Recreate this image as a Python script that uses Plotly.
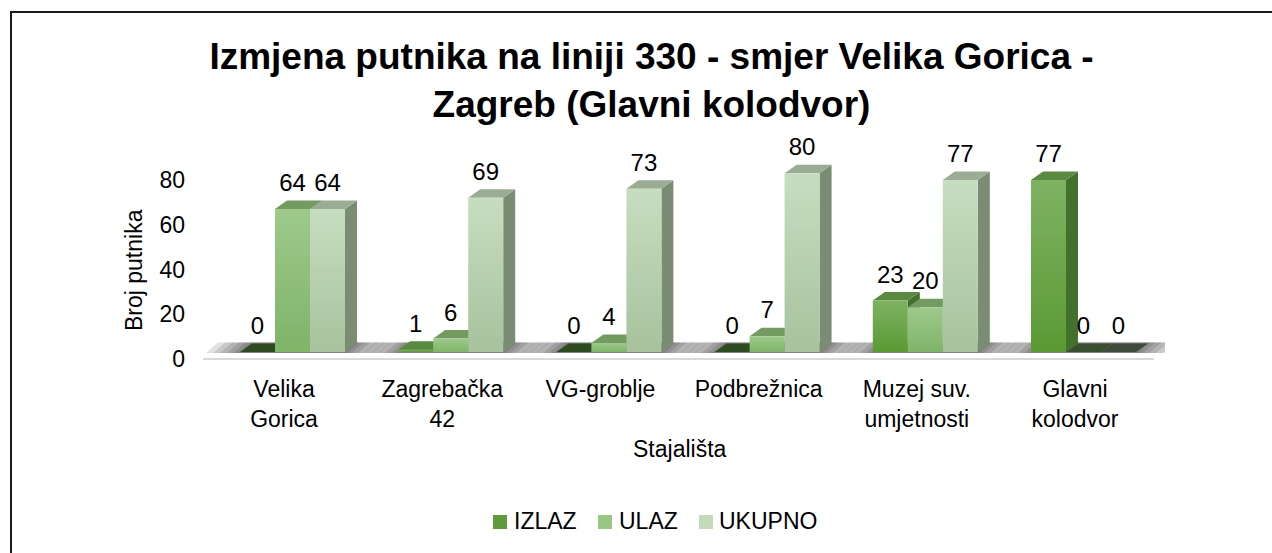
import plotly.graph_objects as go

# ---- data -------------------------------------------------------------
stop_labels = ["Velika<br>Gorica", "Zagrebačka<br>42", "VG-groblje",
               "Podbrežnica", "Muzej suv.<br>umjetnosti", "Glavni<br>kolodvor"]
series_names = ["IZLAZ", "ULAZ", "UKUPNO"]
izlaz = [0, 1, 0, 0, 23, 77]
ulaz = [64, 6, 4, 7, 20, 0]
ukupno = [64, 69, 73, 80, 77, 0]
y_ticks = [0, 20, 40, 60, 80]

# ---- styling / geometry -------------------------------------------------
FONT = "Liberation Sans, Arial, sans-serif"
W, H = 1272, 553
ML, MR, MT, MB = 200, 107, 130, 181
X_RANGE = [-0.531, 5.569]
Y_RANGE = [-8.95, 99.33]

plot_w = W - ML - MR
plot_h = H - MT - MB
ux = plot_w / (X_RANGE[1] - X_RANGE[0])   # pixels per category step
uy = plot_h / (Y_RANGE[1] - Y_RANGE[0])   # pixels per passenger

BAR_W = 35 / ux          # width of a column's front face
GROUP_SHIFT = 8.5 / ux   # columns sit slightly right of the category tick
DX = 12 / ux             # depth of the 3D extrusion (horizontal)
DY = 8.5 / uy            # depth of the 3D extrusion (vertical)
LABEL_GAP = 24 / uy      # data label centre above the front top edge

styles = {
    "IZLAZ":  dict(front=("#5b9934", "#7eb262"), top="#5a8a42", side="#44702e",
                   flat="#2e4a21", key="#5f9b3b"),
    "ULAZ":   dict(front=("#7fb469", "#9ec98b"), top="#739a61", side="#5f8750",
                   flat="#384f30", key="#99c585"),
    "UKUPNO": dict(front=("#a7c29d", "#c7ddc0"), top="#9bac94", side="#7b8c74",
                   flat="#3f4b3c", key="#c4dabb"),
}


def px_x(px):
    return X_RANGE[0] + (px - ML) / ux


def px_y(py):
    return Y_RANGE[0] + (H - MB - py) / uy


def paper_x(px):
    return (px - ML) / plot_w


def paper_y(py):
    return (H - MB - py) / plot_h


def face(pts, color=None, gradient=None, opacity=1.0):
    xs = [p[0] for p in pts] + [pts[0][0]]
    ys = [p[1] for p in pts] + [pts[0][1]]
    tr = dict(x=xs, y=ys, mode="lines", fill="toself", line=dict(width=0),
              hoverinfo="skip", showlegend=False, opacity=opacity)
    if gradient is not None:
        tr["fillgradient"] = dict(type="vertical",
                                  colorscale=[[0, gradient[0]], [1, gradient[1]]])
    else:
        tr["fillcolor"] = color
    return go.Scatter(**tr)


values = [izlaz, ulaz, ukupno]
n = len(stop_labels)

fig = go.Figure()

# soft shadows on the floor under each group
for i in range(n):
    gl = i + GROUP_SHIFT - 1.5 * BAR_W
    gr = gl + 3 * BAR_W + DX
    for ext in [34, 27, 20, 13, 7, 2]:
        e = ext / ux
        fig.add_trace(face([(gl - e, -0.4), (gr + e - DX, -0.4),
                            (gr + e, DY + 0.4), (gl - e + DX, DY + 0.4)],
                           color="#262626", opacity=0.13))

# 3D columns: side, top, then front face, drawn left to right
for i in range(n):
    for k, name in enumerate(series_names):
        st = styles[name]
        v = values[k][i]
        x0 = i + GROUP_SHIFT - 1.5 * BAR_W + k * BAR_W
        x1 = x0 + BAR_W
        if v == 0:
            fig.add_trace(face([(x0, 0), (x1, 0), (x1 + DX, DY), (x0 + DX, DY)],
                               color=st["flat"]))
            continue
        fig.add_trace(face([(x1, 0), (x1 + DX, DY), (x1 + DX, v + DY), (x1, v)],
                           color=st["side"]))
        fig.add_trace(face([(x0, v), (x1, v), (x1 + DX, v + DY), (x0 + DX, v + DY)],
                           color=st["top"]))
        fig.add_trace(face([(x0, 0), (x1, 0), (x1, v), (x0, v)],
                           gradient=st["front"]))

# data labels
for k, name in enumerate(series_names):
    xs = [i + GROUP_SHIFT - BAR_W + k * BAR_W for i in range(n)]
    ys = [v + LABEL_GAP for v in values[k]]
    fig.add_trace(go.Scatter(
        x=xs, y=ys, mode="text", text=[str(v) for v in values[k]],
        textposition="middle center",
        textfont=dict(family=FONT, size=24, color="#000000"),
        hoverinfo="skip", showlegend=False, cliponaxis=False))

shapes = [
    # floor edge
    dict(type="line", xref="x", yref="y", x0=px_x(203), x1=px_x(1154),
         y0=px_y(359), y1=px_y(359), line=dict(color="#d9d9d9", width=2),
         layer="below"),
    # chart frame
    dict(type="rect", xref="paper", yref="paper",
         x0=paper_x(11), x1=paper_x(1290), y0=paper_y(570), y1=paper_y(12),
         line=dict(color="#1a1a1a", width=2), fillcolor="rgba(0,0,0,0)"),
]

annotations = [
    dict(text="Stajališta", xref="paper", yref="paper",
         x=paper_x(680), y=paper_y(449), xanchor="center", yanchor="middle",
         showarrow=False, font=dict(family=FONT, size=23, color="#000000")),
    dict(text="Broj putnika", xref="paper", yref="paper", textangle=-90,
         x=paper_x(134), y=paper_y(270), xanchor="center", yanchor="middle",
         showarrow=False, font=dict(family=FONT, size=23, color="#000000")),
]

# legend
legend_pos = [(493, 512), (598, 617), (699, 717)]
for name, (sq, tx) in zip(series_names, legend_pos):
    shapes.append(dict(type="rect", xref="paper", yref="paper",
                       x0=paper_x(sq), x1=paper_x(sq + 14),
                       y0=paper_y(529), y1=paper_y(515),
                       line=dict(width=0), fillcolor=styles[name]["key"]))
    annotations.append(dict(text=name, xref="paper", yref="paper",
                            x=paper_x(tx), y=paper_y(521),
                            xanchor="left", yanchor="middle", showarrow=False,
                            font=dict(family=FONT, size=23, color="#000000")))

fig.update_layout(
    width=W, height=H,
    margin=dict(l=ML, r=MR, t=MT, b=MB),
    paper_bgcolor="#ffffff", plot_bgcolor="#ffffff",
    showlegend=False,
    title=dict(
        text="<b>Izmjena putnika na liniji 330 - smjer Velika Gorica -<br>"
             "Zagreb (Glavni kolodvor)</b>",
        x=651.5 / W, xref="container", xanchor="center",
        y=1 - 69 / H, yref="container", yanchor="top",
        font=dict(family=FONT, size=37, color="#000000")),
    xaxis=dict(range=X_RANGE, tickvals=list(range(n)), ticktext=stop_labels,
               showgrid=False, zeroline=False, showline=False, ticks="",
               ticklabelstandoff=1,
               tickfont=dict(family=FONT, size=23, color="#000000")),
    yaxis=dict(range=Y_RANGE, tickvals=y_ticks, showgrid=False, zeroline=False,
               showline=False, ticks="", ticklabelshift=7, ticklabelstandoff=14,
               tickfont=dict(family=FONT, size=23, color="#000000")),
    shapes=shapes,
    annotations=annotations,
)

fig.write_html("out.html")
